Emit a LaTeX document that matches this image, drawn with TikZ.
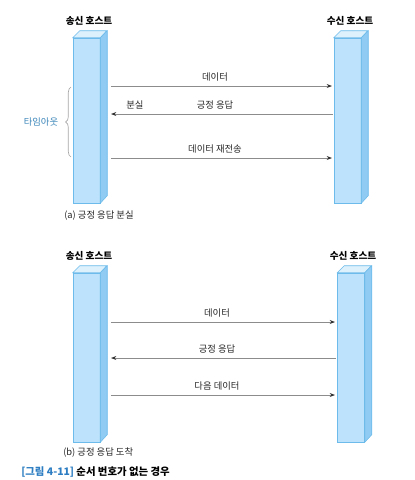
\documentclass[tikz,border=0pt]{standalone}
\usepackage{fontspec}
\setmainfont{Noto Sans CJK KR}
\usetikzlibrary{arrows.meta,decorations.pathreplacing}
\definecolor{barfront}{HTML}{BDE2FB}
\definecolor{barside}{HTML}{8FCBF3}
\definecolor{bartop}{HTML}{DDF1FD}
\definecolor{baredge}{HTML}{6DBBEA}
\definecolor{msggray}{HTML}{8C8C8C}
\definecolor{tipgray}{HTML}{333333}
\definecolor{blue1}{HTML}{3C86B9}
\definecolor{blue2}{HTML}{2D7DC2}
\tikzset{
  barbox/.style={draw=baredge, line width=0.4pt, fill=barfront, inner sep=0pt, minimum width=27*0.75pt},
  msg/.style={draw=msggray, line width=0.6pt, -{Stealth[length=4pt,width=3pt,color=tipgray]}},
  lbl/.style={font=\fontsize{7}{8}\selectfont, inner sep=0pt, text=black!85},
  ttl/.style={font=\fontsize{7.2}{8}\selectfont\bfseries, inner sep=0pt},
  captext/.style={font=\fontsize{7}{8}\selectfont, inner sep=0pt, anchor=west, text=black!85},
  bracestyle/.style={draw=gray!70, line width=0.5pt, decorate, decoration={brace, amplitude=4pt}},
}
\newcommand\barfaces[1]{%
  \fill[bartop, draw=baredge, line width=0.4pt] (#1.north west) -- ++(7,-7) -- ++(27,0) -- (#1.north east) -- cycle;
  \fill[barside, draw=baredge, line width=0.4pt] (#1.north east) -- ++(7,-7) -- ++(0,{\barh}) -- (#1.south east) -- cycle;
}
\begin{document}
\begin{tikzpicture}[x=0.75pt,y=-0.75pt]
\useasboundingbox (0,0) rectangle (415,480);
% ---------- panel (a) ----------
\node[barbox, minimum height=165*0.75pt] (L1) at (86.5,120.5) {};
\node[barbox, minimum height=165*0.75pt] (R1) at (347.5,120.5) {};
\def\barh{165}
\barfaces{L1}
\barfaces{R1}
\node[ttl] (tL1) at (89,21) {송신 호스트};
\node[ttl] (tR1) at (350,21) {수신 호스트};
\coordinate (a1s) at (111,86);  \coordinate (a1e) at (332,86);
\coordinate (a2s) at (333,114); \coordinate (a2e) at (111,114);
\coordinate (a3s) at (111,158); \coordinate (a3e) at (332,158);
\draw[msg] (a1s) -- (a1e);
\draw[msg] (a2s) -- (a2e);
\draw[msg] (a3s) -- (a3e);
\node[lbl] (m1) at (215,77) {데이터};
\node[lbl] (m2) at (215,105) {긍정 응답};
\node[lbl] (m2b) at (135,105) {분실};
\node[lbl] (m3) at (215,149) {데이터 재전송};
\coordinate (b1) at (71,157); \coordinate (b2) at (71,87);
\draw[bracestyle] (b1) -- (b2);
\node[lbl, text=blue1] (to) at (41,122) {타임아웃};
\node[captext] (capa) at (64,216) {(a) 긍정 응답 분실};
% ---------- panel (b) ----------
\node[barbox, minimum height=169*0.75pt] (L2) at (86.5,357.5) {};
\node[barbox, minimum height=169*0.75pt] (R2) at (351,357.5) {};
\def\barh{169}
\barfaces{L2}
\barfaces{R2}
\node[ttl] (tL2) at (89,256) {송신 호스트};
\node[ttl] (tR2) at (353,256) {수신 호스트};
\coordinate (c1s) at (111,322); \coordinate (c1e) at (335,322);
\coordinate (c2s) at (336,358); \coordinate (c2e) at (111,358);
\coordinate (c3s) at (111,395); \coordinate (c3e) at (335,395);
\draw[msg] (c1s) -- (c1e);
\draw[msg] (c2s) -- (c2e);
\draw[msg] (c3s) -- (c3e);
\node[lbl] (n1) at (217,313) {데이터};
\node[lbl] (n2) at (217,349) {긍정 응답};
\node[lbl] (n3) at (217,386) {다음 데이터};
\node[captext] (capb) at (63,453) {(b) 긍정 응답 도착};
\node[captext, text=black, font=\fontsize{7.8}{9}\selectfont\bfseries] (fig) at (21,472) {\textcolor{blue2}{[그림 4-11]} 순서 번호가 없는 경우};
\end{tikzpicture}
\end{document}
